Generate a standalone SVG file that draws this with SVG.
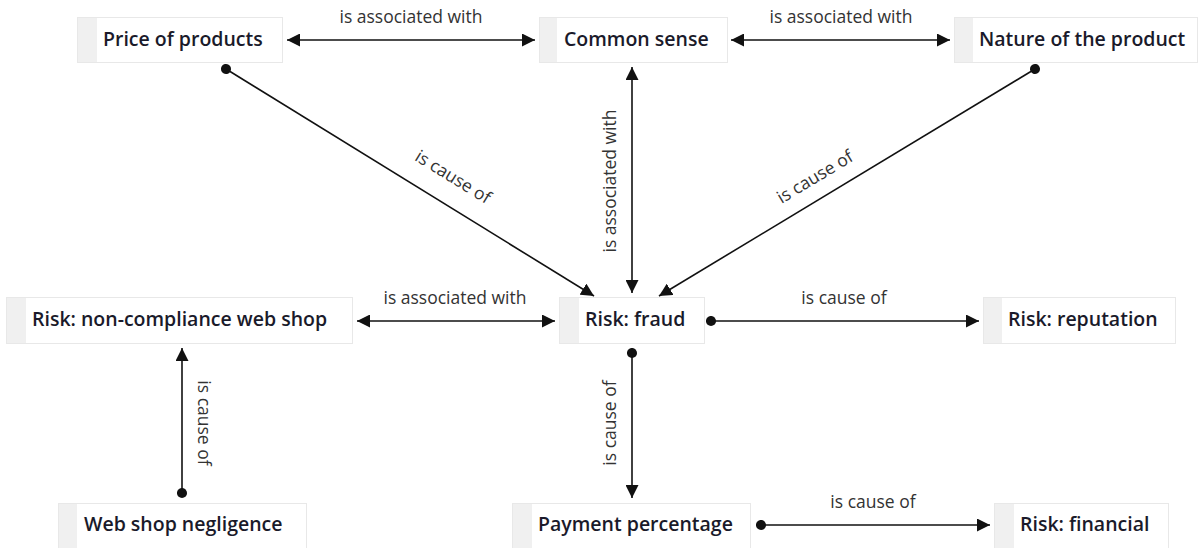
<svg xmlns="http://www.w3.org/2000/svg" width="1199" height="548" viewBox="0 0 1199 548">
  <style>
    .frame { fill: #f0f0f0; stroke: #e8e8e8; stroke-width: 1; }
    .body { fill: #ffffff; }
    .title { font-family: "Open Sans", "Noto Sans", "Liberation Sans", sans-serif; font-size: 19.5px; font-weight: 600; fill: #1a1a2a; }
    .edge { stroke: #111; stroke-width: 1.6; fill: none; }
    .lbl { font-family: "Open Sans", "Noto Sans", "Liberation Sans", sans-serif; font-size: 17.5px; fill: #333; text-anchor: middle; }
  </style>
  <defs>
    <marker id="tip" viewBox="0 0 12 12" refX="12" refY="6" markerWidth="13" markerHeight="13" markerUnits="userSpaceOnUse" orient="auto-start-reverse">
      <path d="M0,0 L12,6 L0,12 z" fill="#111"/>
    </marker>
    <marker id="dot" viewBox="0 0 12 12" refX="6" refY="6" markerWidth="11" markerHeight="11" markerUnits="userSpaceOnUse" orient="auto">
      <circle cx="6" cy="6" r="5.5" fill="#111"/>
    </marker>
  </defs>

  <rect width="1199" height="548" fill="#ffffff"/>

  <!-- connectors -->
  <g id="connectors">
    <line class="edge" x1="287" y1="40" x2="535" y2="40" marker-start="url(#tip)" marker-end="url(#tip)"/>
    <text class="lbl" x="411" y="23">is associated with</text>

    <line class="edge" x1="731" y1="40" x2="950" y2="40" marker-start="url(#tip)" marker-end="url(#tip)"/>
    <text class="lbl" x="841" y="23">is associated with</text>

    <line class="edge" x1="226" y1="69" x2="594" y2="296" marker-start="url(#dot)" marker-end="url(#tip)"/>
    <text class="lbl" transform="translate(450,182) rotate(31.5)">is cause of</text>

    <line class="edge" x1="632" y1="67" x2="632" y2="293" marker-start="url(#tip)" marker-end="url(#tip)"/>
    <text class="lbl" transform="translate(616,181) rotate(-90)">is associated with</text>

    <line class="edge" x1="1035" y1="69" x2="659" y2="296" marker-start="url(#dot)" marker-end="url(#tip)"/>
    <text class="lbl" transform="translate(818,182) rotate(-31)">is cause of</text>

    <line class="edge" x1="357" y1="321" x2="555" y2="321" marker-start="url(#tip)" marker-end="url(#tip)"/>
    <text class="lbl" x="455" y="304">is associated with</text>

    <line class="edge" x1="711" y1="321" x2="979" y2="321" marker-start="url(#dot)" marker-end="url(#tip)"/>
    <text class="lbl" x="844" y="304">is cause of</text>

    <line class="edge" x1="632" y1="353" x2="632" y2="498" marker-start="url(#dot)" marker-end="url(#tip)"/>
    <text class="lbl" transform="translate(616,423) rotate(-90)">is cause of</text>

    <line class="edge" x1="182" y1="493" x2="182" y2="348" marker-start="url(#dot)" marker-end="url(#tip)"/>
    <text class="lbl" transform="translate(198,423) rotate(90)">is cause of</text>

    <line class="edge" x1="761" y1="525" x2="990" y2="525" marker-start="url(#dot)" marker-end="url(#tip)"/>
    <text class="lbl" x="873" y="508">is cause of</text>
  </g>

  <!-- nodes -->
  <g id="price-of-products">
    <rect class="frame" x="77.5" y="17.5" width="205" height="45"/>
    <rect class="body" x="97" y="18" width="185" height="44"/>
    <text class="title" x="103" y="46">Price of products</text>
  </g>
  <g id="common-sense">
    <rect class="frame" x="539.5" y="17.5" width="188" height="45"/>
    <rect class="body" x="557" y="18" width="170" height="44"/>
    <text class="title" x="564" y="46">Common sense</text>
  </g>
  <g id="nature-of-the-product">
    <rect class="frame" x="954.5" y="17.5" width="243" height="45"/>
    <rect class="body" x="973" y="18" width="224" height="44"/>
    <text class="title" x="979" y="46">Nature of the product</text>
  </g>
  <g id="risk-non-compliance">
    <rect class="frame" x="6.5" y="297.5" width="346" height="46"/>
    <rect class="body" x="26" y="298" width="326" height="45"/>
    <text class="title" x="32" y="326">Risk: non-compliance web shop</text>
  </g>
  <g id="risk-fraud">
    <rect class="frame" x="559.5" y="297.5" width="145" height="46"/>
    <rect class="body" x="579" y="298" width="125" height="45"/>
    <text class="title" x="585" y="326">Risk: fraud</text>
  </g>
  <g id="risk-reputation">
    <rect class="frame" x="983.5" y="297.5" width="192" height="46"/>
    <rect class="body" x="1002" y="298" width="173" height="45"/>
    <text class="title" x="1008" y="326">Risk: reputation</text>
  </g>
  <g id="web-shop-negligence">
    <rect class="frame" x="58.5" y="503.5" width="248" height="46"/>
    <rect class="body" x="77" y="504" width="229" height="45"/>
    <text class="title" x="84" y="531">Web shop negligence</text>
  </g>
  <g id="payment-percentage">
    <rect class="frame" x="512.5" y="503.5" width="238" height="46"/>
    <rect class="body" x="532" y="504" width="218" height="45"/>
    <text class="title" x="538" y="531">Payment percentage</text>
  </g>
  <g id="risk-financial">
    <rect class="frame" x="994.5" y="503.5" width="174" height="46"/>
    <rect class="body" x="1014" y="504" width="154" height="45"/>
    <text class="title" x="1020" y="531">Risk: financial</text>
  </g>
</svg>
